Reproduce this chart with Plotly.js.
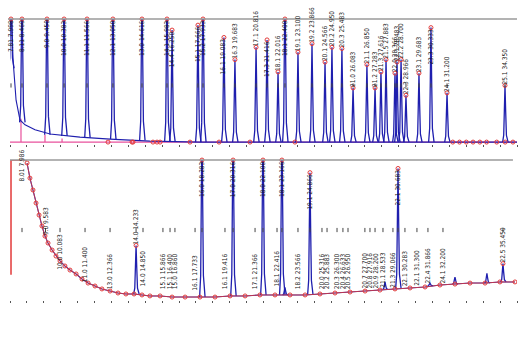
<!DOCTYPE html>
<html><head><meta charset="utf-8">
<script src="https://cdn.plot.ly/plotly-3.0.1.min.js"></script>
<style>html,body{margin:0;padding:0;background:#fff}#c{width:528px;height:352px}</style>
</head><body><div id="c"></div>
<script>
// ---------- TOP CHROMATOGRAM ----------
const topT = [0.06,0.71,2.19,3.20,4.56,6.09,7.81,9.29,9.59,11.12,11.42,12.66,13.31,14.56,15.21,15.86,16.27,17.04,17.87,18.64,19.05,19.64,20.30,21.12,21.60,21.95,22.25,22.78,22.90,23.14,23.43,24.20,24.91,25.86,29.29];
const topH = [130,130,130,130,130,130,130,130,91,95,130,85,67,77,83,57,130,73,80,65,77,76,44,63,44,57,67,56,65,67,38,56,93,40,46];
const topBase = [60,16,6,5,3.5,2.5,1.5,0.5,0.4,0,0,0,0,0,0,0,0,0,0,0,0,0,0,0,0,0,0,0,0,0,0,0,0,0,0];
const topLbl = ["7.81 7.998","8.11 8.460","9.0 9.450","10.0 10.383","11.1 11.566","12.1 13.050","13.0 14.616","14.1 15.983","14.4 16.250","15.1 17.666","15.2 17.933","16.1 19.083","16.3 19.683","17.1 20.816","17.3 21.416","18.1 22.016","18.1 22.400","19.1 23.100","19.2 23.866","20.1 24.566","20.2 24.950","20.3 25.483","21.0 26.083","21.1 26.850","21.2 27.283","21.3 27.616","21.5 27.883","22.0 28.366","22.1 28.483","22.2 28.700","22.3 28.966","23.1 29.683","23.3 30.333","24.1 31.200","25.1 34.350"];
const topTailT = [0.10,0.18,0.36,0.59,0.89,1.48,2.37,4.14,5.92,8.28,11.24,30];
const topTailV = [100,67,34,18,14,10,6.5,4,2.4,0.8,0,0];
const topBaseLineT = [0,30];
const topBaseLineV = [0,0];
const topDropT = [0.65,2.07,3.08];
const topDropV = [19,6,3];
const topRedT = [5.80,7.22,7.28,8.46,8.70,8.88,10.65,12.37,14.20,16.86,26.2,26.6,27.0,27.4,27.8,28.2,28.8,29.3,29.76];
const topRedV = [0,0,0,0,0,0,0,0,0,0,0,0,0,0,0,0,0,0,0];

// ---------- BOTTOM CHROMATOGRAM ----------
const botT = [7.46,11.36,13.20,14.97,16.09,16.27,17.75,22.19,22.96,24.85,26.33,28.22,29.17];
const botH = [39,130,130,130,130,9,91,13,94,12,16.4,19,26];
const botBase = [4.3,2.1,2.9,3.6,3.6,3.6,3.6,7.5,8.2,10.3,11.4,12.1,12.9];
const botPeakLbl = ["14.0 14.233","16.0 18.283","17.0 20.316","18.0 22.100","18.1 23.166","","19.1 24.866","","22.1 30.683","","","","22.5 35.450"];
const botCurveT = [1.01,1.18,1.36,1.54,1.72,1.89,2.07,2.25,2.49,2.72,2.96,3.25,3.55,3.91,4.26,4.62,5.03,5.44,5.92,6.39,6.86,7.34,7.81,8.28,8.88,9.59,10.36,11.24,12.13,13.02,13.91,14.79,15.68,16.57,17.46,18.34,19.23,20.12,21.01,21.89,22.78,23.67,24.56,25.44,26.33,27.22,28.11,28.99,29.88];
const botCurveV = [97.9,87.1,78.6,69.3,60.7,52.9,45.7,40.7,35.7,31.4,27.9,24.3,21.4,18.6,15.0,12.1,10.0,7.9,6.4,5.0,4.3,4.3,3.6,2.9,2.9,2.1,2.1,2.1,2.1,2.9,2.9,3.6,3.6,3.6,3.6,4.3,5.0,5.7,6.4,7.1,7.9,8.6,9.3,10.7,11.4,12.1,12.1,12.9,12.9];
const botStartT = [0.06,0.06,1.01];
const botStartV = [18,100,100];
const botLblT = [0.71,2.10,2.96,4.44,5.92,7.87,9.05,9.47,9.76,10.95,12.72,14.50,15.80,17.04,18.46,18.76,19.35,19.70,20.00,21.00,21.30,21.60,22.07,22.66,23.37,24.08,24.73,25.62];
const botLblV = [84,46,21,12,7,9,7,7,7,6,7,7,9,7,7,7,7,7,7,7.5,7.5,7.5,8,8,9,9.5,11,11];
const botLblText = ["8.01 7.986","9.0 9.583","10.0 10.083","11.0 11.400","13.0 12.366","14.0 14.850","15.1 15.866","15.1 16.400","15.0 16.860","16.1 17.733","16.1 19.416","17.1 21.366","18.1 22.416","18.2 23.566","20.0 25.316","20.2 25.883","20.3 26.300","20.4 26.633","20.5 26.950","20.7 27.700","20.8 27.916","20.9 28.200","21.1 28.533","21.3 29.066","22.1 30.283","22.1 31.300","22.4 31.866","24.1 32.200"];

// ---------- styling constants ----------
const BLUE = '#1f1fae', PINK = '#e8509c', RED = '#e23a3a';
const W = 0.14;
const shapeDx = [-1,-0.55,-0.28,0,0.28,0.6,1.3];
const shapeFy = [0,0.12,0.55,1,0.55,0.12,0];
const FONT = {family:'Liberation Sans Narrow, DejaVu Sans Condensed, sans-serif', size:6.5, color:'#1a1a1a'};
const HANG = 81;

function peakTrace(T,H,B,xa,ya){
  const x=[],y=[];
  T.forEach((t,i)=>{shapeDx.forEach((d,k)=>{x.push(t+d*W);y.push(B[i]+(H[i]-B[i])*shapeFy[k]);});x.push(null);y.push(null);});
  return {x,y,xaxis:xa,yaxis:ya,mode:'lines',line:{color:BLUE,width:1.3},hoverinfo:'skip'};
}

const traces = [
  {x:topBaseLineT,y:topBaseLineV,xaxis:'x',yaxis:'y',mode:'lines',line:{color:PINK,width:1.2}},
  {x:topDropT.flatMap((t,i)=>[t,t,null]),y:topDropV.flatMap(v=>[0,v,null]),xaxis:'x',yaxis:'y',mode:'lines',line:{color:PINK,width:1.2}},
  {x:topTailT,y:topTailV,xaxis:'x',yaxis:'y',mode:'lines',line:{color:BLUE,width:1.1}},
  peakTrace(topT,topH,topBase,'x','y'),
  {x:topRedT,y:topRedV,xaxis:'x',yaxis:'y',mode:'markers',marker:{symbol:'circle-open',size:4,color:RED,line:{width:1}},cliponaxis:false},
  {x:topT,y:topH.map(h=>Math.min(h,100)),xaxis:'x',yaxis:'y',mode:'markers',marker:{symbol:'circle-open',size:4,color:RED,line:{width:1}},cliponaxis:false},
  {x:topT,y:topT.map(()=>46),xaxis:'x',yaxis:'y',mode:'markers',marker:{symbol:'line-ns-open',size:3,color:'#444',line:{width:1,color:'#444'}}},

  {x:botCurveT,y:botCurveV,xaxis:'x2',yaxis:'y2',mode:'lines',line:{color:BLUE,width:1.1}},
  {x:botStartT,y:botStartV,xaxis:'x2',yaxis:'y2',mode:'lines',line:{color:RED,width:1.5}},
  peakTrace(botT,botH,botBase,'x2','y2'),
  {x:botCurveT,y:botCurveV,xaxis:'x2',yaxis:'y2',mode:'markers+lines',line:{color:RED,width:0.8},marker:{symbol:'circle-open',size:4,color:RED,line:{width:1}}},
  {x:botT.filter((t,i)=>botPeakLbl[i]),y:botH.filter((h,i)=>botPeakLbl[i]).map(h=>Math.min(h,100)),xaxis:'x2',yaxis:'y2',mode:'markers',marker:{symbol:'circle-open',size:4,color:RED,line:{width:1}},cliponaxis:false},
  {x:botLblT.concat(botT.filter((t,i)=>botPeakLbl[i])),y:botLblT.concat(botT.filter((t,i)=>botPeakLbl[i])).map(()=>50),xaxis:'x2',yaxis:'y2',mode:'markers',marker:{symbol:'line-ns-open',size:3,color:'#444',line:{width:1,color:'#444'}}}
];

const annotations = [];
topT.forEach((t,i)=>{
  const h=topH[i]; const hang = h>=HANG;
  annotations.push({x:t,y:Math.min(h,100),xref:'x',yref:'y',text:topLbl[i],showarrow:false,textangle:-90,
    yanchor:hang?'top':'bottom',xanchor:'center',font:FONT,borderpad:0});
});
botT.forEach((t,i)=>{
  if(!botPeakLbl[i]) return;
  const h=botH[i]; const hang = h>=HANG;
  annotations.push({x:t,y:Math.min(h,100),xref:'x2',yref:'y2',text:botPeakLbl[i],showarrow:false,textangle:-90,
    yanchor:hang?'top':'bottom',xanchor:'center',font:FONT,borderpad:0});
});
botLblT.forEach((t,i)=>{
  annotations.push({x:t,y:botLblV[i],xref:'x2',yref:'y2',text:botLblText[i],showarrow:false,textangle:-90,
    yanchor:'bottom',xanchor:'center',font:FONT,borderpad:0});
});

const xax = {range:[0,30],showgrid:false,zeroline:false,showline:false,showticklabels:false,ticks:'outside',ticklen:2,tickwidth:1,tickcolor:'#555',dtick:1,tick0:0,fixedrange:true};
const layout = {
  width:528,height:352,margin:{l:10,r:11,t:19,b:52},
  paper_bgcolor:'#fff',plot_bgcolor:'#fff',showlegend:false,
  xaxis:Object.assign({anchor:'y'},xax),
  xaxis2:Object.assign({anchor:'y2'},xax),
  yaxis:{domain:[0.555,1],range:[-1.6,100],visible:false,fixedrange:true},
  yaxis2:{domain:[0,0.498],range:[0,100],visible:false,fixedrange:true},
  shapes:[
    {type:'line',xref:'paper',yref:'y domain',x0:-0.004,x1:1,y0:1,y1:1,line:{color:'#9a9a9a',width:1.5}},
    {type:'line',xref:'paper',yref:'y2 domain',x0:0,x1:0.992,y0:1,y1:1,line:{color:'#9a9a9a',width:1.5}}
  ],
  annotations
};
Plotly.newPlot('c',traces,layout,{staticPlot:true,displayModeBar:false});
</script></body></html>
